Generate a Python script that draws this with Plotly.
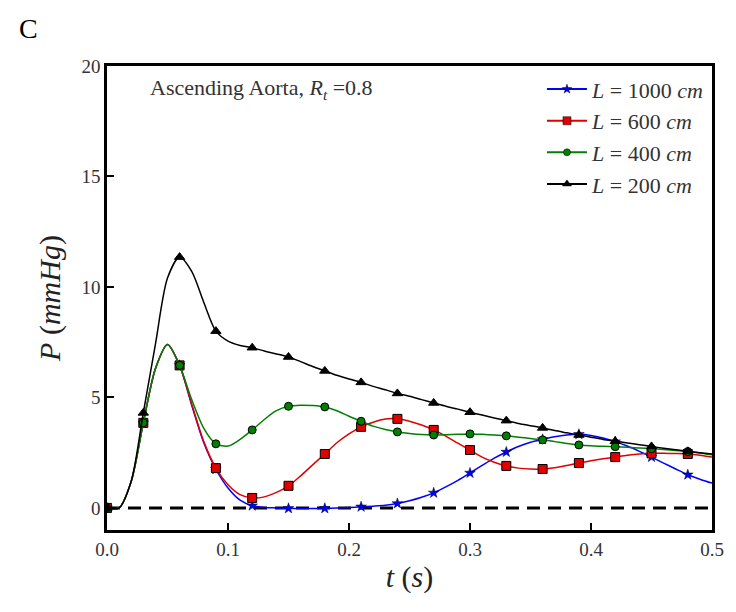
import plotly.graph_objects as go

t = [round(i * 0.01, 2) for i in range(51)]

p_1000 = [0, 0.0, 1.2, 3.85, 6.3, 7.4, 6.45, 4.65, 2.95, 1.75, 0.9, 0.35, 0.1, 0.02, 0.0,
          -0.02, -0.03, -0.03, -0.02, 0.0, 0.02, 0.05, 0.08, 0.12, 0.2, 0.32, 0.48, 0.68,
          0.95, 1.25, 1.58, 1.92, 2.25, 2.53, 2.78, 2.97, 3.1, 3.22, 3.3, 3.33, 3.28, 3.16,
          3.0, 2.8, 2.56, 2.3, 2.03, 1.76, 1.5, 1.3, 1.12]
p_600 = [0, 0.0, 1.2, 3.85, 6.3, 7.4, 6.45, 4.7, 3.0, 1.8, 1.05, 0.6, 0.45, 0.5, 0.7,
         1.0, 1.45, 1.95, 2.44, 2.95, 3.35, 3.67, 3.88, 4.02, 4.03, 3.92, 3.75, 3.53,
         3.25, 2.93, 2.62, 2.3, 2.07, 1.9, 1.8, 1.76, 1.76, 1.82, 1.92, 2.03, 2.13, 2.22,
         2.3, 2.38, 2.44, 2.47, 2.47, 2.46, 2.44, 2.38, 2.3]
p_400 = [0, 0.0, 1.2, 3.85, 6.3, 7.4, 6.45, 4.9, 3.6, 2.9, 2.8, 3.1, 3.53, 4.0, 4.4,
         4.6, 4.65, 4.63, 4.57, 4.4, 4.15, 3.92, 3.7, 3.55, 3.44, 3.37, 3.32, 3.3, 3.31,
         3.33, 3.35, 3.33, 3.3, 3.26, 3.2, 3.14, 3.08, 3.0, 2.92, 2.85, 2.81, 2.79, 2.77,
         2.74, 2.71, 2.68, 2.64, 2.6, 2.55, 2.48, 2.4]
p_200 = [0, 0.0, 1.2, 4.3, 7.4, 10.4, 11.35, 10.7, 9.3, 8.0, 7.55, 7.35, 7.25, 7.1, 6.97,
         6.83, 6.62, 6.4, 6.2, 6.0, 5.83, 5.68, 5.5, 5.35, 5.18, 5.05, 4.9, 4.75, 4.6,
         4.47, 4.33, 4.2, 4.07, 3.95, 3.82, 3.72, 3.62, 3.5, 3.4, 3.3, 3.2, 3.1, 3.02,
         2.94, 2.86, 2.78, 2.7, 2.63, 2.56, 2.5, 2.44]

labels = ["<i>L</i> = 1000 <i>cm</i>", "<i>L</i> = 600 <i>cm</i>",
          "<i>L</i> = 400 <i>cm</i>", "<i>L</i> = 200 <i>cm</i>"]
series = [p_1000, p_600, p_400, p_200]
colors = ["#0000ff", "#e00000", "#007f00", "#000000"]
symbols = ["star", "square", "circle", "triangle-up"]
msizes = [8, 9, 8, 9]

serif = "Liberation Serif, DejaVu Serif, serif"
tickfont = dict(family=serif, size=19, color="#333333")
fig = go.Figure()

# zero reference line
fig.add_trace(go.Scatter(x=[0, 0.5], y=[0, 0], mode="lines",
                         line=dict(color="black", width=3, dash="13px,8px"),
                         showlegend=False, hoverinfo="skip"))

for ys, lab, c, s, ms in zip(series, labels, colors, symbols, msizes):
    fig.add_trace(go.Scatter(x=t, y=ys, mode="lines",
                             line=dict(color=c, width=1.5, shape="spline", smoothing=0.8),
                             showlegend=False, legendgroup=lab))
    fig.add_trace(go.Scatter(x=t[::3], y=ys[::3], mode="markers",
                             marker=dict(color=c, symbol=s, size=ms,
                                         line=dict(color="black", width=1 if s != "star" else 0.5)),
                             showlegend=False, legendgroup=lab))

for lab, c, s, ms in zip(labels, colors, symbols, msizes):
    fig.add_trace(go.Scatter(x=[None], y=[None], mode="lines+markers", name=lab,
                             line=dict(color=c, width=2),
                             marker=dict(color=c, symbol=s, size=ms - 1,
                                         line=dict(color="black", width=0.5)),
                             legendgroup=lab))

fig.update_layout(
    width=736, height=612,
    margin=dict(l=107, r=18, t=66, b=82),
    plot_bgcolor="white", paper_bgcolor="white",
    font=dict(family=serif, color="#222222", size=17),
    showlegend=True,
    legend=dict(x=0.995, y=0.995, xanchor="right", yanchor="top",
                bgcolor="rgba(0,0,0,0)", borderwidth=0,
                font=dict(family=serif, size=22, color="#333333"),
                tracegroupgap=0, itemwidth=40),
    xaxis=dict(range=[0, 0.5], tickvals=[0, 0.1, 0.2, 0.3, 0.4, 0.5],
               ticktext=["0.0", "0.1", "0.2", "0.3", "0.4", "0.5"],
               tickfont=tickfont,
               ticks="inside", ticklen=7, tickwidth=1.5, tickcolor="black",
               showgrid=False, zeroline=False, showline=True, linecolor="black",
               linewidth=2.5, mirror=True,
               title=dict(text="<i>t</i> (<i>s</i>)", font=dict(size=30, family=serif),
                          standoff=8)),
    yaxis=dict(range=[-1, 20], tickvals=[0, 5, 10, 15, 20],
               tickfont=tickfont,
               ticks="inside", ticklen=7, tickwidth=1.5, tickcolor="black",
               showgrid=False, zeroline=False, showline=True, linecolor="black",
               linewidth=2.5, mirror=True,
               title=dict(text="<i>P</i> (<i>mmHg</i>)", font=dict(size=30, family=serif),
                          standoff=12)),
    annotations=[
        dict(text="C", xref="paper", yref="paper",
             x=(28 - 107) / 611, y=1 + (66 - 28) / 464,
             xanchor="center", yanchor="middle", showarrow=False,
             font=dict(size=28, family=serif, color="black")),
        dict(text="Ascending Aorta, <i>R</i><sub><i>t</i></sub> =0.8",
             xref="paper", yref="paper", x=0.068, y=0.985, xanchor="left", yanchor="top",
             showarrow=False, font=dict(size=22, family=serif, color="#333333")),
    ],
)

fig.write_html("out.html")
